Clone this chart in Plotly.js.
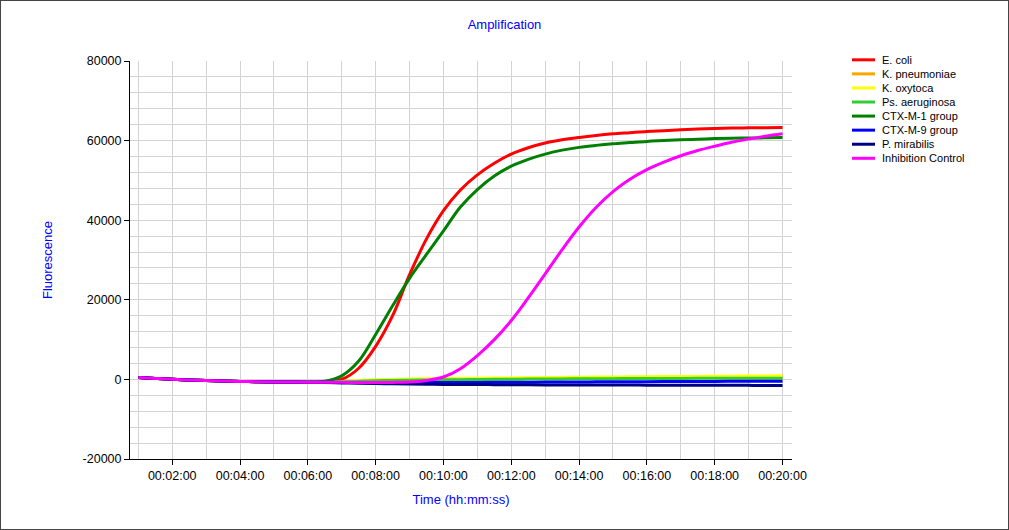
<!DOCTYPE html>
<html>
<head>
<meta charset="utf-8">
<script src="https://cdn.plot.ly/plotly-3.0.1.min.js"></script>
<style>
  body { margin: 0; background: #fff; }
  #plot { width: 1007px; height: 528px; border: 1px solid #444; }
</style>
</head>
<body>
<div id="plot"></div>
<script>
// sample times (hh:mm:ss), every 30 s
const times = [
  '00:01:00','00:01:30','00:02:00','00:02:30','00:03:00','00:03:30','00:04:00','00:04:30',
  '00:05:00','00:05:30','00:06:00','00:06:30','00:07:00','00:07:30','00:08:00','00:08:30',
  '00:09:00','00:09:30','00:10:00','00:10:30','00:11:00','00:11:30','00:12:00','00:12:30',
  '00:13:00','00:13:30','00:14:00','00:14:30','00:15:00','00:15:30','00:16:00','00:16:30',
  '00:17:00','00:17:30','00:18:00','00:18:30','00:19:00','00:19:30','00:20:00'
];

const eColi = [500, 250, 20, -150, -300, -420, -520, -580, -630, -670, -700,
  -650, 0, 2800, 8300, 16000, 26300, 35300, 42400, 47600, 51400, 54300, 56600, 58200,
  59400, 60200, 60800, 61300, 61700, 62000, 62300, 62500, 62700, 62900, 63050, 63150,
  63200, 63250, 63300];
const kPneumoniae = [500, 250, 20, -150, -300, -420, -520, -580, -630, -670, -700,
  -670, -560, -400, -240, -150, -80, -20, 30, 80, 120, 160, 200, 240,
  280, 320, 360, 400, 430, 460, 490, 520, 550, 580, 610, 640, 670, 700, 720];
const kOxytoca = [500, 250, 20, -150, -300, -420, -520, -580, -630, -670, -700,
  -650, -500, -300, -100, 0, 80, 150, 200, 250, 300, 340, 380, 420,
  460, 500, 540, 580, 610, 640, 670, 700, 730, 760, 790, 820, 850, 880, 900];
const psAeruginosa = [500, 250, 20, -150, -300, -420, -520, -580, -630, -670, -700,
  -680, -600, -480, -350, -250, -200, -150, -100, -60, -20, 20, 50, 80,
  100, 130, 150, 170, 190, 210, 230, 240, 250, 260, 270, 280, 290, 300, 300];
const ctxM1 = [500, 250, 20, -150, -300, -420, -520, -580, -630, -670, -700,
  -450, 900, 4600, 11300, 18500, 25400, 31400, 37300, 43300, 47700, 51100, 53600, 55300,
  56600, 57600, 58300, 58800, 59200, 59500, 59800, 60000, 60200, 60350, 60500, 60600,
  60650, 60700, 60750];
const ctxM9 = [500, 250, 20, -150, -300, -420, -520, -580, -630, -670, -700,
  -720, -760, -790, -810, -820, -820, -810, -800, -780, -760, -740, -720, -700,
  -680, -660, -640, -620, -600, -580, -560, -545, -530, -515, -500, -490, -480, -470, -460];
const pMirabilis = [500, 250, 20, -150, -300, -420, -520, -580, -630, -670, -700,
  -780, -880, -980, -1060, -1120, -1170, -1210, -1250, -1280, -1300, -1320, -1340, -1360,
  -1380, -1390, -1400, -1410, -1420, -1430, -1440, -1450, -1460, -1470, -1480, -1490,
  -1500, -1510, -1520];
const inhibitionControl = [500, 250, 20, -150, -300, -420, -520, -580, -630, -670, -700,
  -720, -740, -760, -780, -760, -650, -250, 600, 2700, 6000, 10000, 14800, 20500,
  26500, 32600, 38300, 43200, 47200, 50300, 52700, 54600, 56200, 57500, 58600, 59600,
  60400, 61100, 61700];

const seriesNames = ['E. coli', 'K. pneumoniae', 'K. oxytoca', 'Ps. aeruginosa',
  'CTX-M-1 group', 'CTX-M-9 group', 'P. mirabilis', 'Inhibition Control'];
const seriesValues = [eColi, kPneumoniae, kOxytoca, psAeruginosa, ctxM1, ctxM9, pMirabilis, inhibitionControl];
const seriesColors = ['#ff0000', '#ffa500', '#ffff00', '#32cd32', '#008000', '#0000ff', '#000080', '#ff00ff'];

// y tick labels (plain hyphen, as in the original)
const yTickVals = [-20000, 0, 20000, 40000, 60000, 80000];
const yTickText = ['-20000', '0', '20000', '40000', '60000', '80000'];

const DAY = '2000-01-01 ';
const xs = times.map(t => DAY + t);

const traces = seriesNames.map((name, i) => ({
  x: xs,
  y: seriesValues[i],
  name: name,
  type: 'scatter',
  mode: 'lines',
  line: { color: seriesColors[i], width: 3, shape: 'spline', smoothing: 1 },
  hoverinfo: 'skip',
}));

// hand-made legend (tighter rows than plotly's own legend)
const LEG_X0 = 1.0906, LEG_X1 = 1.1254, LEG_TX = 1.1329;
const LEG_Y0 = 1.003, LEG_STEP = 0.03535;
const legendShapes = seriesNames.map((n, i) => ({
  type: 'line', xref: 'paper', yref: 'paper',
  x0: LEG_X0, x1: LEG_X1, y0: LEG_Y0 - i * LEG_STEP, y1: LEG_Y0 - i * LEG_STEP,
  line: { color: seriesColors[i], width: 3 },
}));
const legendNotes = seriesNames.map((n, i) => ({
  text: n, xref: 'paper', yref: 'paper', x: LEG_TX, y: LEG_Y0 - i * LEG_STEP,
  xanchor: 'left', yanchor: 'middle', showarrow: false,
  font: { family: 'Liberation Sans, Arial, sans-serif', size: 11, color: '#000' },
}));

const tickFont = { family: 'Liberation Sans, Arial, sans-serif', size: 12.5, color: '#000' };
const blueFont = { family: 'Liberation Sans, Arial, sans-serif', size: 13, color: '#0000ff' };

const layout = {
  width: 1007,
  height: 528,
  margin: { l: 129, r: 216, t: 60, b: 70 },
  paper_bgcolor: '#fff',
  plot_bgcolor: '#fff',
  showlegend: false,
  title: {
    text: 'Amplification', font: blueFont,
    x: 0.5, xref: 'container', y: 0.955, yref: 'container', yanchor: 'middle',
  },
  xaxis: {
    type: 'date',
    range: [DAY + '00:00:45.3', DAY + '00:20:16.8'],
    tick0: DAY + '00:00:00',
    dtick: 120000,
    tickformat: '%H:%M:%S',
    ticks: 'outside', ticklen: 5, tickcolor: '#000',
    showline: true, linecolor: '#000', linewidth: 1,
    showgrid: true, gridcolor: '#d3d3d3', gridwidth: 1,
    minor: { dtick: 60000, showgrid: true, gridcolor: '#d3d3d3', gridwidth: 1 },
    zeroline: false,
    tickfont: tickFont,
    title: { text: 'Time (hh:mm:ss)', font: blueFont, standoff: 12 },
  },
  yaxis: {
    range: [-20000, 80000],
    tickmode: 'array',
    tickvals: yTickVals,
    ticktext: yTickText,
    ticks: 'outside', ticklen: 5, tickcolor: '#000',
    showline: true, linecolor: '#000', linewidth: 1,
    showgrid: true, gridcolor: '#d3d3d3', gridwidth: 1,
    minor: { dtick: 4000, showgrid: true, gridcolor: '#d3d3d3', gridwidth: 1 },
    zeroline: false,
    tickfont: tickFont,
    title: { text: 'Fluorescence', font: blueFont, standoff: 27 },
  },
  shapes: legendShapes,
  annotations: legendNotes,
};

const config = { staticPlot: true, displayModeBar: false };

Plotly.newPlot('plot', traces, layout, config);
</script>
</body>
</html>
